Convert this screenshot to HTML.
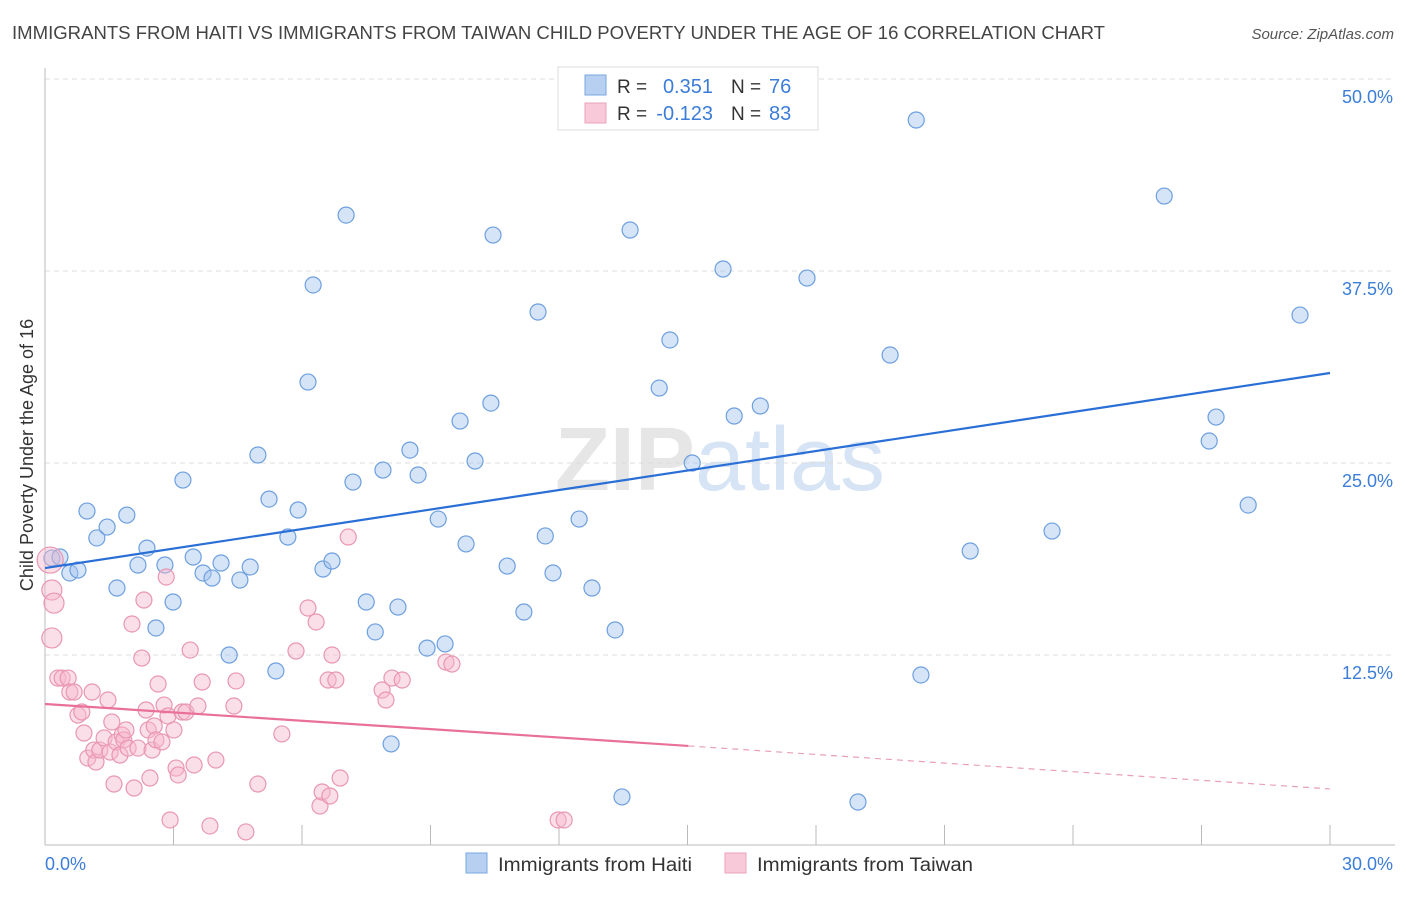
<!DOCTYPE html>
<html><head><meta charset="utf-8"><style>
body{margin:0;background:#fff;font-family:"Liberation Sans",sans-serif;}
svg text{font-family:"Liberation Sans",sans-serif;}
</style></head><body>
<svg id="chart" width="1406" height="892" viewBox="0 0 1406 892">
<text x="12" y="39" font-size="18.5" fill="#444" textLength="1093" lengthAdjust="spacingAndGlyphs">IMMIGRANTS FROM HAITI VS IMMIGRANTS FROM TAIWAN CHILD POVERTY UNDER THE AGE OF 16 CORRELATION CHART</text>
<text x="1394" y="39" font-size="15" fill="#555" font-style="italic" text-anchor="end">Source: ZipAtlas.com</text>
<text x="720" y="490" font-size="90" fill="#e6e6e6" text-anchor="middle" font-family="Liberation Serif" font-weight="bold">ZIP<tspan fill="#d6e4f5" font-family="Liberation Sans" font-weight="normal">atlas</tspan></text>
<g id="grid"></g>
<g id="axes"></g>
<g id="marks"></g>
<text transform="translate(33,455) rotate(-90)" font-size="18" fill="#333" text-anchor="middle">Child Poverty Under the Age of 16</text>
<text x="45" y="870" font-size="18" fill="#3b7dd8">0.0%</text>
<text x="1393" y="870" font-size="18" fill="#3b7dd8" text-anchor="end">30.0%</text>
<g>
<rect x="558" y="67" width="260" height="63" fill="#fff" stroke="#ddd"/>
<rect x="585" y="75" width="21" height="20" fill="#b7d0f2" stroke="#7aa7e0"/>
<rect x="585" y="103" width="21" height="20" fill="#f8c9d8" stroke="#eba3ba"/>
<text x="617" y="93" font-size="19" fill="#333">R =</text>
<text x="713" y="93" font-size="20" fill="#3b7dd8" text-anchor="end">0.351</text>
<text x="731" y="93" font-size="19" fill="#333">N =</text>
<text x="769" y="93" font-size="20" fill="#3b7dd8">76</text>
<text x="617" y="120" font-size="19" fill="#333">R =</text>
<text x="713" y="120" font-size="20" fill="#3b7dd8" text-anchor="end">-0.123</text>
<text x="731" y="120" font-size="19" fill="#333">N =</text>
<text x="769" y="120" font-size="20" fill="#3b7dd8">83</text>
</g>
<g>
<rect x="466" y="853" width="21" height="20" fill="#b7d0f2" stroke="#7aa7e0"/>
<text x="498" y="871" font-size="19" fill="#333" textLength="194" lengthAdjust="spacingAndGlyphs">Immigrants from Haiti</text>
<rect x="725" y="853" width="21" height="20" fill="#f8c9d8" stroke="#eba3ba"/>
<text x="757" y="871" font-size="19" fill="#333" textLength="216" lengthAdjust="spacingAndGlyphs">Immigrants from Taiwan</text>
</g>
</svg>
<script>
const yTicks=[12.5,25.0,37.5,50.0];
const yTickLabels=["12.5%","25.0%","37.5%","50.0%"];
const xTicks=[0,3,6,9,12,15,18,21,24,27,30];
const haitiX=[0.16,0.35,0.58,0.77,0.98,1.21,1.45,1.68,1.91,2.17,2.38,2.59,2.80,2.99,3.22,3.46,3.69,3.90,4.11,4.30,4.55,4.79,4.97,5.23,5.39,5.67,5.91,6.14,6.26,6.49,6.70,7.03,7.19,7.50,7.71,7.89,8.08,8.24,8.52,8.71,8.92,9.18,9.34,9.69,9.83,10.04,10.41,10.46,10.79,11.18,11.51,11.68,11.86,12.47,12.77,13.31,13.47,13.66,14.34,14.59,15.11,15.83,16.09,16.70,17.79,18.98,19.73,20.34,20.45,21.60,23.51,26.13,27.18,27.34,28.09,29.30];
const haitiY=[18.81,18.88,17.84,18.03,21.87,20.12,20.83,16.86,21.61,18.36,19.46,14.26,18.36,15.95,23.89,18.88,17.84,17.51,18.49,12.50,17.38,18.23,25.52,22.65,11.46,20.18,21.94,30.27,36.59,18.10,18.62,41.14,23.76,15.95,14.00,24.54,6.71,15.62,25.84,24.22,12.95,21.35,13.22,27.73,19.73,25.13,28.90,39.84,18.29,15.30,34.83,20.25,17.84,21.35,16.86,14.13,3.26,40.17,29.88,33.01,25.00,37.63,28.06,28.71,37.04,2.93,32.03,47.33,11.20,19.27,20.57,42.38,26.43,27.99,22.26,34.63];
const taiwanX=[0.12,0.16,0.21,0.16,0.30,0.40,0.54,0.58,0.68,0.77,0.86,0.91,1.00,1.10,1.14,1.19,1.28,1.38,1.47,1.52,1.56,1.61,1.66,1.75,1.80,1.84,1.89,1.94,2.03,2.08,2.17,2.26,2.31,2.36,2.41,2.45,2.50,2.55,2.59,2.64,2.73,2.78,2.83,2.87,2.92,3.01,3.06,3.11,3.20,3.29,3.39,3.48,3.57,3.67,3.85,3.99,4.41,4.46,4.69,4.97,5.53,5.86,6.14,6.33,6.42,6.47,6.61,6.65,6.70,6.79,6.89,7.08,7.87,7.96,8.10,8.34,9.36,9.50,11.98,12.12];
const taiwanY=[18.68,16.73,15.88,13.61,11.00,11.00,11.00,10.09,10.09,8.59,8.79,7.42,5.79,10.09,6.31,5.53,6.31,7.10,9.57,6.18,8.14,4.10,6.84,5.99,7.29,6.97,7.62,6.44,14.52,3.84,6.44,12.30,16.08,8.92,7.62,4.49,6.31,7.88,6.97,10.61,6.84,9.24,17.58,8.53,1.76,7.62,5.14,4.69,8.79,8.79,12.82,5.34,9.18,10.74,1.37,5.66,9.18,10.81,0.98,4.10,7.36,12.76,15.56,14.65,2.67,3.58,10.87,3.32,12.50,10.87,4.49,20.18,10.22,9.57,11.00,10.87,12.04,11.91,1.76,1.76];
const haitiTrendX=[0,30];
const haitiTrendY=[18.16,30.86];
const taiwanTrendX=[0,15.02,30];
const taiwanTrendY=[9.31,6.58,3.78];

const NS="http://www.w3.org/2000/svg";
const sx=v=>45+v*(1285/30);
const sy=v=>847-v*15.36;
function mk(tag,attrs,parent){const e=document.createElementNS(NS,tag);for(const k in attrs)e.setAttribute(k,attrs[k]);parent.appendChild(e);return e;}
const grid=document.getElementById('grid'),axes=document.getElementById('axes'),marks=document.getElementById('marks');
yTicks.forEach((t,i)=>{
  const l=mk('line',{x1:45,x2:1395,y1:sy(t),y2:sy(t),stroke:'#dcdcdc','stroke-dasharray':'5,4'},grid);
  
  
  const tx=mk('text',{x:1393,y:sy(t)+24,'font-size':18,fill:'#3b7dd8','text-anchor':'end'},grid);
  tx.textContent=yTickLabels[i];
  
  
});
const yl=mk('line',{x1:45,x2:45,y1:68,y2:845,stroke:'#bbb'},axes);


const xl=mk('line',{x1:45,x2:1395,y1:845,y2:845,stroke:'#bbb'},axes);


xTicks.forEach(t=>{
  const l=mk('line',{x1:sx(t),x2:sx(t),y1:825,y2:845,stroke:'#bbb'},axes);
  
  
});
haitiX.forEach((x,i)=>{
  const c=mk('circle',{cx:sx(x),cy:sy(haitiY[i]),r:8,fill:'rgba(164,196,238,0.45)',stroke:'#6d9fe0','stroke-width':1.2},marks);
  
  
});
taiwanX.forEach((x,i)=>{
  const c=mk('circle',{cx:sx(x),cy:sy(taiwanY[i]),r:i==0?13:(i<4?10:8),fill:'rgba(246,184,204,0.45)',stroke:'#e996b3','stroke-width':1.2},marks);
  
  
});
const bt=mk('line',{x1:sx(haitiTrendX[0]),y1:sy(haitiTrendY[0]),x2:sx(haitiTrendX[1]),y2:sy(haitiTrendY[1]),stroke:'#2a6fd6','stroke-width':2.2},marks);


const pt=mk('line',{x1:sx(taiwanTrendX[0]),y1:sy(taiwanTrendY[0]),x2:sx(taiwanTrendX[1]),y2:sy(taiwanTrendY[1]),stroke:'#e8709a','stroke-width':2.2},marks);


const pd=mk('line',{x1:sx(taiwanTrendX[1]),y1:sy(taiwanTrendY[1]),x2:sx(taiwanTrendX[2]),y2:sy(taiwanTrendY[2]),stroke:'#e8a0b8','stroke-width':1.2,'stroke-dasharray':'6,5'},marks);


</script>
</body></html>
